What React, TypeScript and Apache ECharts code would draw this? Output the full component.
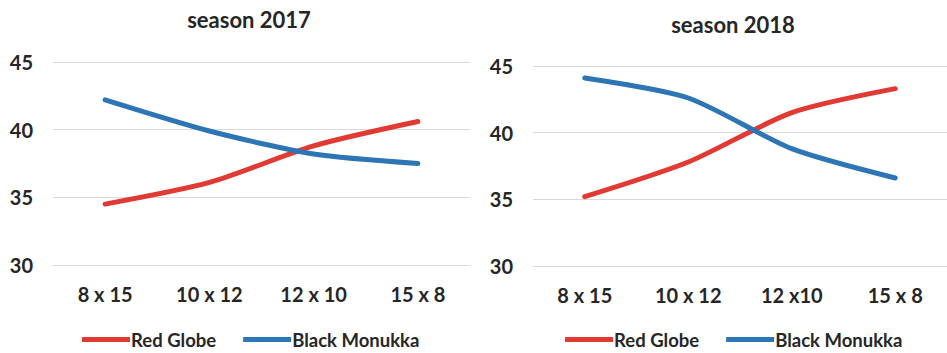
import React, { useEffect, useRef } from "react";
import * as echarts from "echarts";

const categories2017 = ["8 x 15", "10 x 12", "12 x 10", "15 x 8"];
const categories2018 = ["8 x 15", "10 x 12", "12 x10", "15 x 8"];
const redGlobe2017 = [34.5, 36.1, 38.8, 40.6];
const blackMonukka2017 = [42.2, 39.9, 38.2, 37.5];
const redGlobe2018 = [35.2, 37.8, 41.5, 43.3];
const blackMonukka2018 = [44.1, 42.6, 38.8, 36.6];
const titles = ["season 2017", "season 2018"];
const seriesNames = ["Red Globe", "Black Monukka"];

const RED = "#E03A33";
const BLUE = "#2E75B6";
const TEXT = "#262626";
const GRID = "#D9D9D9";
const FONT = "Lato";

export default function App() {
  const ref = useRef<HTMLDivElement>(null);
  useEffect(() => {
    if (!ref.current) return;
    const chart = echarts.init(ref.current, undefined, { renderer: "svg" });
    const xAxisBase = (idx: number, data: string[]) => ({
      type: "category",
      gridIndex: idx,
      data,
      boundaryGap: true,
      axisLine: { show: true, lineStyle: { color: GRID, width: 1 } },
      axisTick: { show: false },
      axisLabel: {
        color: TEXT,
        fontSize: 20,
        fontWeight: "bold",
        fontFamily: FONT,
        margin: 19,
      },
    });
    const yAxisBase = (idx: number) => ({
      type: "value",
      gridIndex: idx,
      min: 30,
      max: 45,
      interval: 5,
      axisLine: { show: false },
      axisTick: { show: false },
      splitLine: { lineStyle: { color: GRID, width: 1 } },
      axisLabel: {
        color: TEXT,
        fontSize: 20,
        fontWeight: "bold",
        fontFamily: FONT,
        margin: 20,
      },
    });
    const lineSeries = (name: string, data: number[], color: string, idx: number) => ({
      type: "line",
      name,
      data,
      xAxisIndex: idx,
      yAxisIndex: idx,
      smooth: 0.25,
      showSymbol: false,
      symbol: "none",
      lineStyle: { color, width: 5, cap: "round", join: "round" },
      itemStyle: { color },
    });
    const legendBase = (left: number) => ({
      left,
      top: 325,
      icon: "rect",
      itemWidth: 48,
      itemHeight: 5,
      itemGap: 27,
      data: seriesNames,
      textStyle: {
        color: TEXT,
        fontSize: 18.5,
        fontWeight: "bold",
        fontFamily: FONT,
        padding: [0, 0, 0, -4],
      },
    });
    chart.setOption({
      animation: false,
      backgroundColor: "#ffffff",
      color: [RED, BLUE],
      title: [
        {
          text: titles[0],
          left: 244,
          top: 3,
          textAlign: "center",
          textStyle: { color: TEXT, fontSize: 22, fontWeight: "bold", fontFamily: FONT },
        },
        {
          text: titles[1],
          left: 728,
          top: 8,
          textAlign: "center",
          textStyle: { color: TEXT, fontSize: 22, fontWeight: "bold", fontFamily: FONT },
        },
      ],
      legend: [legendBase(77), legendBase(560)],
      grid: [
        { left: 53, top: 62, width: 417, height: 203, containLabel: false },
        { left: 533, top: 66, width: 422, height: 200, containLabel: false },
      ],
      xAxis: [xAxisBase(0, categories2017), xAxisBase(1, categories2018)],
      yAxis: [yAxisBase(0), yAxisBase(1)],
      series: [
        lineSeries(seriesNames[0], redGlobe2017, RED, 0),
        lineSeries(seriesNames[1], blackMonukka2017, BLUE, 0),
        lineSeries(seriesNames[0], redGlobe2018, RED, 1),
        lineSeries(seriesNames[1], blackMonukka2018, BLUE, 1),
      ],
    });
    return () => chart.dispose();
  }, []);
  return (
    <div
      ref={ref}
      style={{ position: "fixed", left: 0, top: 0, width: 947, height: 353, background: "#fff" }}
    />
  );
}
